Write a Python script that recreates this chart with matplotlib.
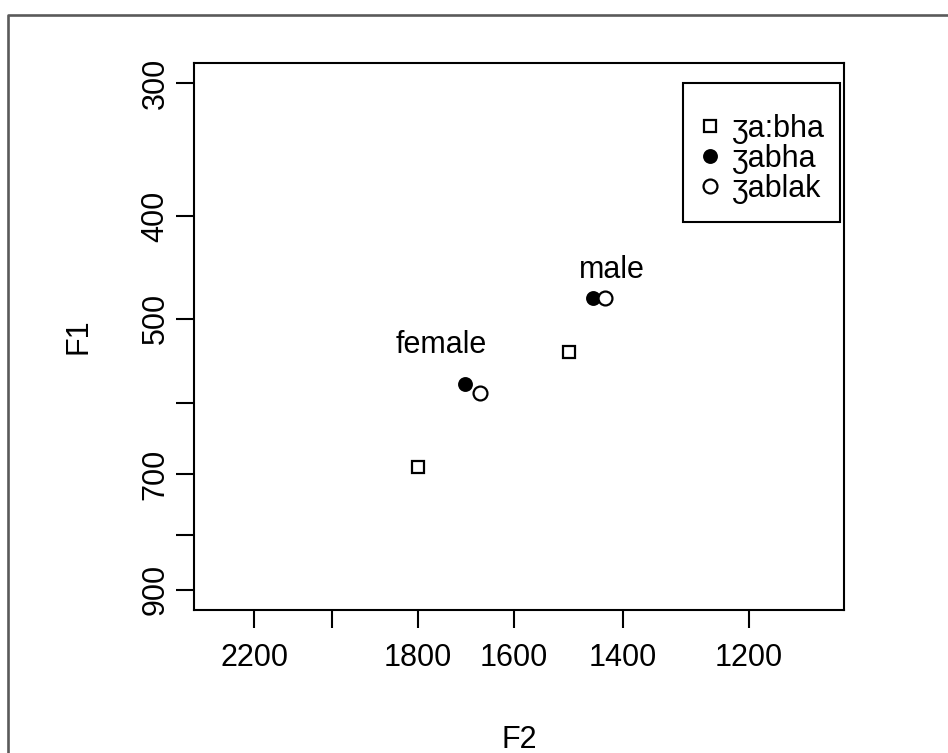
import numpy as np
import matplotlib
matplotlib.use("Agg")
import matplotlib.pyplot as plt
from matplotlib.lines import Line2D
from matplotlib.patches import Rectangle

plt.rcParams['font.family'] = ['Liberation Sans', 'DejaVu Sans']

# data (F2, F1) for female / male speakers
labels = ["ʒa:bha", "ʒabha", "ʒablak"]
f2_female = [1800, 1700, 1669]
f1_female = [690, 576, 587]
f2_male = [1496, 1452, 1431]
f1_male = [537, 478, 478]
group_names = ["female", "male"]
group_label_f2 = [1749, 1419]
group_label_f1 = [529, 450]

xlim_data = (2300, 1100)
ylim_data = (900, 300)
xticks = [2200, 2000, 1800, 1600, 1400, 1200]
xticklabels = ["2200", "", "1800", "1600", "1400", "1200"]
yticks = [300, 400, 500, 600, 700, 800, 900]
yticklabels = ["300", "400", "500", "", "700", "", "900"]

def log_ext(a, b, frac=0.04):
    la, lb = np.log(a), np.log(b)
    d = (lb - la) * frac
    return np.exp(la - d), np.exp(lb + d)

fig = plt.figure(figsize=(9.48, 7.53), dpi=100)
ax = fig.add_axes([194/948, 1-610/753, 650/948, 547/753])

fs = 22
msq = dict(marker='s', markersize=8, markerfacecolor='white', markeredgecolor='black',
           markeredgewidth=1.6, linestyle='none', color='black')
mfill = dict(marker='o', markersize=9.5, markerfacecolor='black', markeredgecolor='black',
             markeredgewidth=1.2, linestyle='none')
mopen = dict(marker='o', markersize=10, markerfacecolor='white', markeredgecolor='black',
             markeredgewidth=1.6, linestyle='none')
styles = [msq, mfill, mopen]

for i in range(3):
    ax.plot([f2_female[i], f2_male[i]], [f1_female[i], f1_male[i]], label=labels[i],
            zorder=3 + i, **styles[i])

for name, x, y in zip(group_names, group_label_f2, group_label_f1):
    ax.text(x, y, name, ha='center', va='center', fontsize=fs)

ax.set_xscale('log')
ax.set_yscale('log')
ax.set_xlim(*log_ext(*xlim_data))
ax.set_ylim(*log_ext(*ylim_data))
ax.set_xticks(xticks)
ax.set_xticklabels(xticklabels)
ax.set_yticks(yticks)
ax.set_yticklabels(yticklabels, rotation=90, va='center')
ax.xaxis.set_minor_locator(matplotlib.ticker.NullLocator())
ax.yaxis.set_minor_locator(matplotlib.ticker.NullLocator())
ax.tick_params(axis='both', length=13, width=1.5, labelsize=fs, color='black')
ax.tick_params(axis='x', pad=11)
ax.tick_params(axis='y', pad=4)
for s in ax.spines.values():
    s.set_linewidth(1.5)

ax.set_xlabel("F2", fontsize=fs, labelpad=37)
ax.set_ylabel("F1", fontsize=fs, labelpad=34)

leg = ax.legend(loc='center', bbox_to_anchor=(0.8755, 0.8245), borderaxespad=0,
                fontsize=fs, frameon=False,
                handlelength=0.6, handletextpad=0.42, labelspacing=0.0, borderpad=0)
ax.add_patch(Rectangle((0.7523, 0.7093), 0.2415, 0.2541, transform=ax.transAxes,
                       facecolor='none', edgecolor='black', linewidth=1.5, zorder=10))

fig.add_artist(Line2D([8/948, 8/948, 1.0], [0, 1-15/753, 1-15/753],
                      transform=fig.transFigure, color='#5a5a5a', linewidth=1.9))

fig.savefig("out.png", dpi=100)
